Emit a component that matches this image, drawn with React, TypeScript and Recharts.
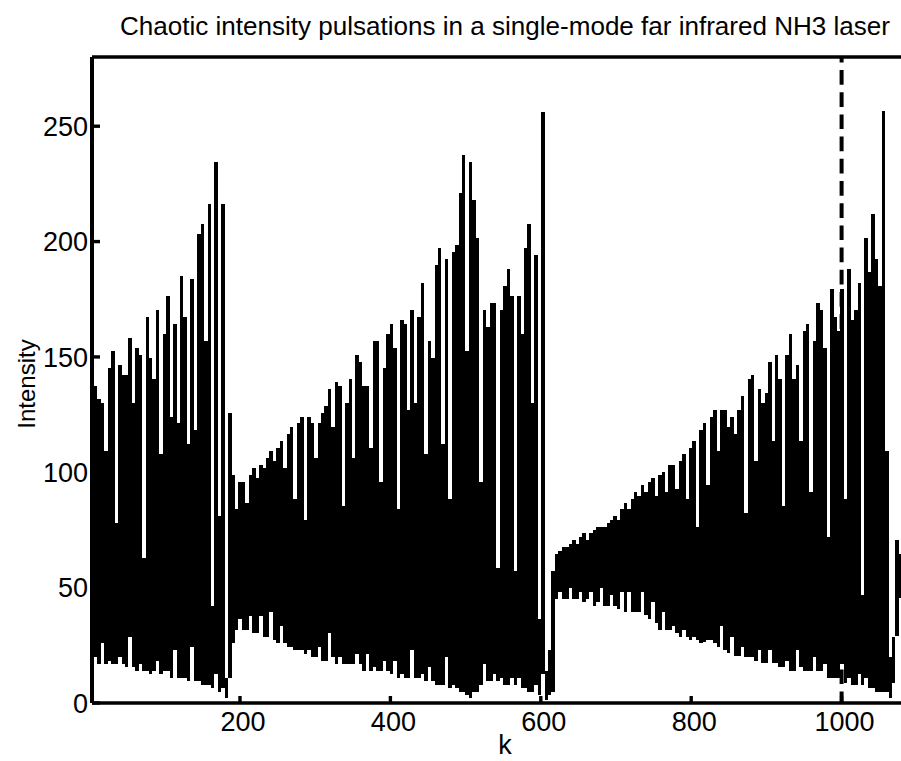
import { Line, LineChart, ReferenceLine, XAxis, YAxis } from "recharts"

const titleText = "Chaotic intensity pulsations in a single-mode  far infrared NH3 laser"
const xTicks = [200, 400, 600, 800, 1000]
const yTicks = [0, 50, 100, 150, 200, 250]

const firstK = 8.14
const kPerColumn = 4.574

const pulseTop = [
  137.3, 131.7, 130, 109.2, 145.1, 152.5, 78, 146.4, 142.1, 142.1,
  158.1, 130, 153.8, 150.8, 62.8, 167.2, 149.5, 140.4, 170.3, 107.9,
  159.9, 176.3, 123.9, 164.2, 121.3, 185, 167.2, 112.2, 183.7, 118.3,
  203.2, 207.5, 156.8, 216.2, 42, 234.4, 81, 216.2, 10.8, 125.6,
  98.8, 84.1, 95.8, 95.8, 86.7, 98.8, 101.8, 97.5, 103.1, 101.8,
  106.2, 109.2, 104.9, 110.5, 113.5, 101.8, 116.6, 119.6, 88.4, 121.3,
  123.9, 79.3, 123.9, 121.3, 106.2, 121.3, 125.6, 128.7, 136, 119.6,
  139.1, 137.3, 85.4, 130, 140.4, 106.2, 150.8, 147.7, 137.3, 137.3,
  110.5, 156.8, 156.8, 95.8, 145.1, 159.9, 164.2, 153.8, 84.1, 165.9,
  164.2, 127, 170.3, 130, 167.2, 182, 107.9, 156.8, 149.5, 189.8,
  197.1, 112.2, 192.4, 88.4, 195.4, 198.4, 221, 237.4, 152.5, 234.4,
  217.9, 201.5, 95.8, 170.3, 162.9, 173.3, 173.3, 58.5, 170.3, 180.7,
  188, 176.3, 57.2, 176.3, 159.9, 197.1, 207.5, 130, 194.1, 36.4,
  256.1, 13.9, 23, 57.2, 64.6, 65.9, 67.6, 67.6, 68.9, 70.6,
  68.9, 71.9, 73.7, 70.6, 73.7, 75, 76.3, 76.3, 76.3, 78,
  79.3, 81, 79.3, 84.1, 86.7, 84.1, 88.4, 91.4, 89.7, 94.5,
  91.4, 95.8, 97.5, 89.7, 98.8, 100.1, 91.4, 103.1, 103.1, 92.7,
  104.9, 107.9, 88.4, 110.5, 113.5, 76.3, 118.3, 121.3, 94.5, 123.9,
  127, 109.2, 127, 127, 119.6, 123.9, 116.6, 127, 133, 82.3,
  140.4, 142.1, 104.9, 136, 130, 134.3, 147.7, 113.5, 150.8, 140.4,
  85.4, 150.8, 159.9, 140.4, 146.4, 113.5, 161.2, 164.2, 91.4, 156.8,
  173.3, 170.3, 153.8, 71.9, 179.4, 167.2, 161.2, 179.4, 88.4, 188,
  165.9, 170.3, 182, 46.8, 201.5, 186.7, 211.9, 192.4, 180.7, 256.5,
  109.2, 19.9, 28.6, 70.6, 64.6,
]

const pulseBottom = [
  19.9, 16.9, 26, 16.9, 18.2, 16.9, 16.9, 19.9, 16.9, 15.6,
  28.6, 15.6, 13.9, 16.9, 13.9, 13.9, 12.6, 13.9, 18.2, 12.6,
  13.9, 13.9, 10.8, 23, 10.8, 10.8, 10.8, 9.5, 24.3, 9.5,
  9.5, 7.8, 7.8, 7.8, 6.5, 12.6, 4.8, 6.5, 2.2, 10.8,
  26, 31.6, 36.4, 31.6, 31.6, 37.7, 30.3, 30.3, 37.7, 28.6,
  28.6, 39.4, 27.3, 26, 33.4, 26, 24.3, 24.3, 23, 23,
  23, 21.2, 23, 19.9, 19.9, 24.3, 18.2, 18.2, 30.3, 19.9,
  16.9, 19.9, 16.9, 16.9, 16.9, 16.9, 21.2, 16.9, 13.9, 21.2,
  13.9, 15.6, 13.9, 13.9, 18.2, 13.9, 12.6, 18.2, 10.8, 12.6,
  10.8, 10.8, 23, 10.8, 10.8, 12.6, 9.5, 15.6, 9.5, 7.8,
  7.8, 7.8, 19.9, 6.5, 7.8, 6.5, 4.8, 4.8, 3.5, 2.2,
  4.8, 4.8, 7.8, 16.9, 9.5, 9.5, 12.6, 9.5, 10.8, 7.8,
  7.8, 10.8, 7.8, 10.8, 6.5, 6.5, 4.8, 4.8, 7.8, 3.5,
  12.6, 1.3, 3.5, 4.8, 45.1, 48.1, 45.1, 45.1, 49.8, 45.1,
  45.1, 48.1, 43.8, 45.1, 48.1, 42, 43.8, 49.8, 42, 42,
  46.8, 42, 40.7, 48.1, 39.4, 48.1, 39.4, 39.4, 39.4, 48.1,
  38.1, 36.4, 43.8, 34.7, 31.6, 39.4, 31.6, 31.6, 33.4, 30.3,
  28.6, 31.6, 28.6, 27.3, 28.6, 27.3, 26, 26.4, 27.3, 27.3,
  26, 24.3, 33.4, 23, 21.7, 28.6, 20.4, 20.4, 24.3, 19.9,
  19.9, 19.9, 18.2, 23, 17.3, 17.3, 23, 17.3, 17.3, 15.6,
  15.6, 18.2, 13.9, 13.9, 23, 15.6, 13.9, 13.9, 13.9, 19.9,
  13.9, 13.9, 16.9, 10.8, 10.8, 10.8, 10.8, 16.9, 8.7, 10.8,
  7.8, 7.8, 12.6, 7.8, 10.8, 6.5, 6.5, 4.8, 4.8, 4.8,
  4.8, 2.2, 8.7, 29, 45.5,
]

// each column is its own vertical stroke, the null breaks the line between them
const signal = pulseTop.flatMap((top, i) => {
  const k = firstK + kPerColumn * i
  return [
    { k, intensity: top },
    { k, intensity: pulseBottom[i] },
    { k, intensity: null },
  ]
})

const axisStroke = { stroke: "#000", strokeWidth: 3.4 }
const tickFont = { fontSize: 27, fontFamily: "Liberation Sans", fill: "#000" }

export default function App() {
  return (
    <div style={{ position: "absolute", left: 0, top: 0, width: 901, height: 761, background: "#fff" }}>
      <LineChart width={901} height={761} data={signal} margin={{ top: 0, right: 0, bottom: 0, left: 0 }}>
        <XAxis
          xAxisId="bottom"
          dataKey="k"
          type="number"
          domain={[3.2, 1079]}
          ticks={xTicks}
          interval={0}
          height={58}
          axisLine={axisStroke}
          tickLine={axisStroke}
          tickSize={-7}
          tickMargin={16}
          tick={{ ...tickFont, dx: 3 }}
        />
        <XAxis
          xAxisId="top"
          orientation="top"
          dataKey="k"
          type="number"
          domain={[3.2, 1079]}
          ticks={xTicks}
          interval={0}
          height={57}
          axisLine={axisStroke}
          tickLine={axisStroke}
          tickSize={-7}
          tick={false}
        />
        <YAxis
          type="number"
          domain={[0, 280]}
          ticks={yTicks}
          interval={0}
          width={92}
          axisLine={{ stroke: "#000", strokeWidth: 4 }}
          tickLine={axisStroke}
          tickSize={-8}
          tickMargin={12}
          tick={tickFont}
        />
        <Line
          xAxisId="bottom"
          dataKey="intensity"
          stroke="#000"
          strokeWidth={3.44}
          dot={false}
          connectNulls={false}
          shapeRendering="crispEdges"
          isAnimationActive={false}
        />
        <ReferenceLine
          xAxisId="bottom"
          x={1000}
          stroke="#000"
          strokeWidth={4}
          strokeDasharray="14.7 7.5"
          strokeDashoffset={3.3}
        />
        <text
          x={120}
          y={35}
          textLength={770}
          lengthAdjust="spacingAndGlyphs"
          fontSize={25}
          fontFamily="Liberation Sans"
          fill="#000"
        >
          {titleText}
        </text>
        <text
          x={35}
          y={384}
          textAnchor="middle"
          transform="rotate(-90 35 384)"
          fontSize={24}
          fontFamily="Liberation Sans"
          fill="#000"
        >
          Intensity
        </text>
        <text x={505} y={754} textAnchor="middle" fontSize={27} fontFamily="Liberation Sans" fill="#000">
          k
        </text>
      </LineChart>
    </div>
  )
}
